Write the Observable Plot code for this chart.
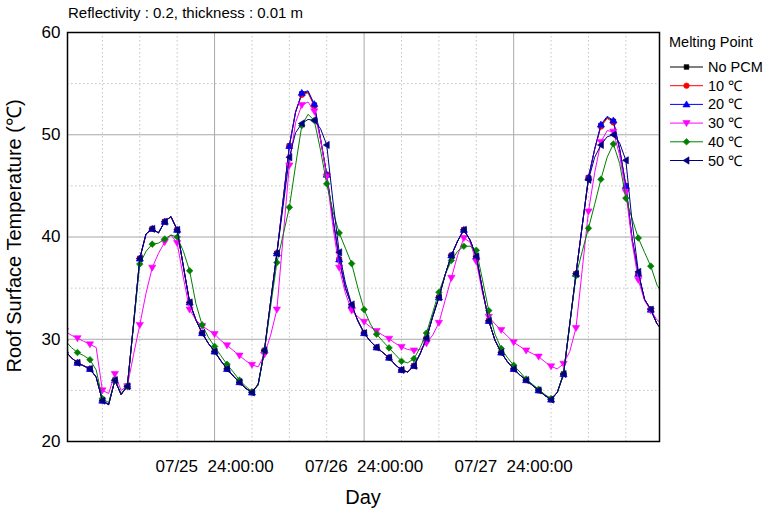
<!DOCTYPE html>
<html><head><meta charset="utf-8">
<script src="https://cdn.jsdelivr.net/npm/d3@7"></script>
<script src="https://cdn.jsdelivr.net/npm/@observablehq/plot@0.6"></script>
<style>
html,body{margin:0;padding:0;background:#fff;}
#wrap{position:relative;width:772px;height:517px;overflow:hidden;font-family:"Liberation Sans",Arial,sans-serif;}
#wrap svg text{white-space:pre;}
#overlay{position:absolute;left:0;top:0;pointer-events:none;}
</style></head><body><div id="wrap"></div>
<script>
// ---------- data (hour 0 .. 96, hourly) ----------
const hours = d3.range(0, 97);
const noPCM = [28.9,28.2,27.7,27.4,27.1,26.3,24.0,23.6,26.0,24.6,
25.4,31.5,37.9,40.3,40.8,40.4,41.5,42.0,40.7,37.1,
33.6,31.9,30.6,29.6,28.8,27.9,27.1,26.4,25.8,25.2,
24.8,25.6,28.9,33.7,38.4,43.6,48.9,52.2,54.0,54.2,
52.9,49.6,46.1,41.8,37.8,35.0,33.3,31.8,30.6,29.8,
29.2,28.7,28.2,27.5,27.0,26.8,27.4,28.6,30.1,32.2,
34.1,36.3,38.2,39.6,40.7,39.7,38.1,34.8,31.8,29.9,
28.7,27.8,27.1,26.5,26.0,25.5,25.0,24.5,24.1,24.8,
26.6,31.5,36.4,41.1,45.8,48.6,50.9,51.7,51.3,48.6,
45.0,39.8,36.4,33.9,32.9,31.5,30.8];
const pcm10 = [28.9,28.2,27.7,27.4,27.1,26.3,24.0,23.6,26.0,24.6,
25.4,31.5,37.9,40.3,40.8,40.4,41.5,42.0,40.7,37.1,
33.6,31.9,30.6,29.6,28.8,27.9,27.1,26.4,25.8,25.2,
24.8,25.6,28.9,33.7,38.4,43.6,48.9,52.3,53.9,54.1,
52.8,49.6,46.1,41.8,37.8,35.0,33.3,31.8,30.6,29.8,
29.2,28.7,28.2,27.5,27.0,26.8,27.4,28.6,30.1,32.2,
34.1,36.3,38.2,39.6,40.7,39.7,38.1,34.8,31.8,29.9,
28.7,27.8,27.1,26.5,26.0,25.5,25.0,24.5,24.1,24.8,
26.6,31.5,36.4,41.1,45.8,48.6,50.8,51.6,51.2,48.6,
45.0,39.8,36.4,33.9,32.9,31.5,30.8];
const pcm20 = [28.9,28.2,27.7,27.4,27.1,26.3,24.0,23.6,26.0,24.6,
25.4,31.5,37.9,40.3,40.8,40.4,41.5,42.0,40.7,37.1,
33.6,31.9,30.6,29.6,28.8,27.9,27.1,26.4,25.8,25.2,
24.8,25.6,28.9,33.7,38.4,43.6,48.9,52.2,54.1,54.3,
53.0,49.6,46.1,41.8,37.8,35.0,33.3,31.8,30.6,29.8,
29.2,28.7,28.2,27.5,27.0,26.8,27.4,28.6,30.1,32.2,
34.1,36.3,38.2,39.6,40.7,39.7,38.1,34.8,31.8,29.9,
28.7,27.8,27.1,26.5,26.0,25.5,25.0,24.5,24.1,24.8,
26.6,31.5,36.4,41.1,45.8,48.6,51.0,51.8,51.4,48.6,
45.0,39.8,36.4,33.9,32.9,31.5,30.8];
const pcm30 = [30.8,30.4,30.1,29.8,29.5,29.2,25.0,24.7,26.6,25.0,
25.4,28.5,31.4,34.5,37.0,38.4,39.5,40.2,39.4,36.0,
32.9,31.9,31.3,30.9,30.5,29.9,29.4,28.9,28.4,27.9,
27.5,27.3,28.5,30.4,32.9,40.0,47.0,51.2,52.9,53.2,
52.3,49.5,45.9,41.0,37.0,34.5,32.8,32.2,31.7,31.2,
30.8,30.4,30.05,29.6,29.25,29.0,28.9,29.0,29.6,30.4,
31.6,33.8,36.0,38.2,39.9,39.5,37.6,34.5,32.2,31.5,
30.9,30.3,29.7,29.3,28.9,28.6,28.3,27.8,27.35,27.1,
27.6,28.8,31.1,36.8,42.5,46.3,49.3,50.4,50.3,48.0,
44.4,39.5,35.8,33.8,32.8,31.9,31.4];
const pcm40 = [29.9,29.2,28.7,28.4,28.0,27.0,24.2,23.8,26.0,24.7,
25.4,31.3,37.35,38.6,39.3,39.4,39.8,40.2,40.0,38.6,
36.7,33.5,31.4,30.2,29.3,28.4,27.55,26.8,26.0,25.4,
24.85,25.5,28.85,33.2,37.5,40.2,42.9,47.0,50.9,52.0,
51.4,48.5,45.2,42.5,40.4,38.9,37.4,35.0,32.9,31.5,
30.5,29.8,29.15,28.5,27.85,27.7,28.1,29.2,30.6,32.6,
34.6,36.3,37.7,38.6,39.1,39.1,38.7,35.8,32.8,30.5,
29.1,28.2,27.45,26.8,26.1,25.6,25.1,24.6,24.2,24.8,
26.6,31.4,36.2,38.6,40.85,43.2,45.65,47.8,49.1,47.2,
43.8,41.8,39.9,38.5,37.15,35.3,34.3];
const pcm50 = [28.9,28.2,27.7,27.4,27.1,26.3,24.0,23.6,26.0,24.6,
25.4,31.5,37.9,40.3,40.8,40.4,41.5,42.0,40.7,37.1,
33.6,31.9,30.6,29.6,28.8,27.9,27.1,26.4,25.8,25.2,
24.8,25.6,28.9,33.7,38.4,43.0,47.8,50.2,51.1,51.5,
51.4,50.6,49.0,43.5,38.5,35.5,33.4,31.8,30.6,29.8,
29.2,28.7,28.2,27.5,27.0,26.8,27.4,28.6,30.1,32.2,
34.1,36.3,38.2,39.6,40.7,39.7,38.1,34.8,31.8,29.9,
28.7,27.8,27.1,26.5,26.0,25.5,25.0,24.5,24.1,24.8,
26.6,31.5,36.4,41.1,45.6,47.8,49.0,49.8,50.0,49.2,
47.5,41.5,36.6,33.9,32.9,31.5,30.8];

const seriesNames = ["No PCM", "10 \u2103", "20 \u2103", "30 \u2103", "40 \u2103", "50 \u2103"];
const seriesValues = [noPCM, pcm10, pcm20, pcm30, pcm40, pcm50];
const seriesColors = ["#000000", "#ff0000", "#0000ff", "#ff00ff", "#008000", "#000080"];

const xTickHours = [24, 48, 72];
const xTickLabels = ["07/25  24:00:00", "07/26  24:00:00", "07/27  24:00:00"];
const xMinorHours = [6, 12, 18, 30, 36, 42, 54, 60, 66, 78, 84, 90];
const yTicks = [20, 30, 40, 50, 60];
const yMajorGrid = [30, 40, 50];
const yMinorGrid = [25, 35, 45, 55];

const titleText = "Reflectivity : 0.2, thickness : 0.01 m";
const yLabel = "Roof Surface Temperature (\u2103)";
const xLabel = "Day";
const legendTitle = "Melting Point";

// ---------- symbols ----------
const symTriDown = {draw(ctx, size){ const r = Math.sqrt(size/3); ctx.moveTo(-r*1.15, -r*0.8); ctx.lineTo(r*1.15, -r*0.8); ctx.lineTo(0, r*1.1); ctx.closePath(); }};
const symTriLeft = {draw(ctx, size){ const r = Math.sqrt(size/3); ctx.moveTo(-r*1.1, 0); ctx.lineTo(r*0.8, -r*1.15); ctx.lineTo(r*0.8, r*1.15); ctx.closePath(); }};
const symTriUp = {draw(ctx, size){ const r = Math.sqrt(size/3); ctx.moveTo(-r*1.15, r*0.8); ctx.lineTo(r*1.15, r*0.8); ctx.lineTo(0, -r*1.1); ctx.closePath(); }};
const symDiamond = {draw(ctx, size){ const r = Math.sqrt(size/3)*1.05; ctx.moveTo(0, -r); ctx.lineTo(r, 0); ctx.lineTo(0, r); ctx.lineTo(-r, 0); ctx.closePath(); }};
const seriesSymbols = [d3.symbolSquare, d3.symbolCircle, symTriUp, symTriDown, symDiamond, symTriLeft];
const seriesSizes = [22, 24, 30, 30, 30, 30];

const rows = [];
seriesNames.forEach((name, i) => hours.forEach((h, j) => rows.push({series: name, hour: h, temp: seriesValues[i][j]})));

const marks = [
  Plot.gridX(xMinorHours, {stroke: "#c4c4c4", strokeOpacity: 1, strokeDasharray: "1.5,2.5"}),
  Plot.gridY(yMinorGrid, {stroke: "#c4c4c4", strokeOpacity: 1, strokeDasharray: "1.5,2.5"}),
  Plot.gridX(xTickHours, {stroke: "#a8a8a8", strokeOpacity: 1}),
  Plot.gridY(yMajorGrid, {stroke: "#a8a8a8", strokeOpacity: 1})
];
seriesNames.forEach((name, i) => {
  const d = rows.filter(r => r.series === name);
  marks.push(Plot.line(d, {x: "hour", y: "temp", stroke: seriesColors[i], strokeWidth: 1, clip: true}));
  marks.push(Plot.dot(d.filter(r => r.hour % 2 === 0), {x: "hour", y: "temp", symbol: seriesSymbols[i], r: Math.sqrt(seriesSizes[i] / Math.PI), fill: seriesColors[i], stroke: seriesColors[i], strokeWidth: 0.6, clip: true}));
});
marks.push(Plot.frame({stroke: "#000", strokeWidth: 1.5}));
marks.push(Plot.axisY(yTicks, {tickSize: 0, tickPadding: 7, fontSize: 17, label: null}));
marks.push(Plot.axisX(xTickHours, {tickSize: 0, tickPadding: 18, fontSize: 17, label: null, tickFormat: h => xTickLabels[xTickHours.indexOf(h)]}));

const plot = Plot.plot({
  width: 772, height: 517,
  marginLeft: 67, marginRight: 113, marginTop: 32, marginBottom: 76,
  style: {fontFamily: '"Liberation Sans", Arial, sans-serif', background: "#fff", color: "#000"},
  x: {domain: [0.4, 95.4]},
  y: {domain: [20, 60]},
  marks
});
const wrap = document.getElementById("wrap");
wrap.appendChild(plot);

// ---------- overlay: title, axis titles, legend ----------
const ov = d3.select(wrap).append("svg").attr("id", "overlay").attr("width", 772).attr("height", 517)
  .style("font-family", '"Liberation Sans", Arial, sans-serif');
ov.append("text").attr("x", 68).attr("y", 18).attr("font-size", 15).attr("fill", "#000").text(titleText);
ov.append("text").attr("transform", "translate(14,236) rotate(-90)").attr("text-anchor", "middle")
  .attr("dominant-baseline", "central").attr("font-size", 20).attr("fill", "#000").text(yLabel);
ov.append("text").attr("x", 363).attr("y", 497).attr("text-anchor", "middle").attr("dominant-baseline", "central")
  .attr("font-size", 20).attr("fill", "#000").text(xLabel);

const lg = ov.append("g");
lg.append("text").attr("x", 669).attr("y", 47).attr("font-size", 14.5).attr("fill", "#000").text(legendTitle);
seriesNames.forEach((name, i) => {
  const cy = 67 + i * 18.7;
  lg.append("line").attr("x1", 670).attr("x2", 703).attr("y1", cy).attr("y2", cy).attr("stroke", seriesColors[i]).attr("stroke-width", 1);
  lg.append("path").attr("transform", `translate(686.5,${cy})`).attr("d", d3.symbol().type(seriesSymbols[i]).size(seriesSizes[i])())
    .attr("fill", seriesColors[i]).attr("stroke", seriesColors[i]).attr("stroke-width", 0.6);
  lg.append("text").attr("x", 708).attr("y", cy).attr("dominant-baseline", "central").attr("font-size", 14.5).attr("fill", "#000").text(name);
});
</script></body></html>
